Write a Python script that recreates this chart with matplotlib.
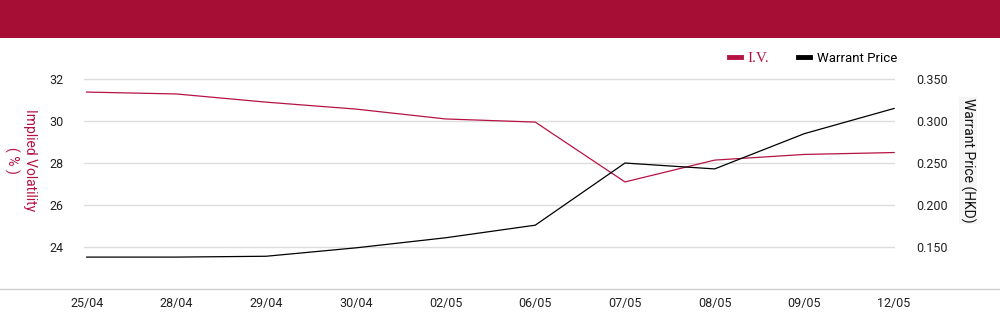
import matplotlib.pyplot as plt
from matplotlib.patches import Rectangle
from matplotlib.lines import Line2D
from matplotlib.ticker import FormatStrFormatter

dates = ['25/04', '28/04', '29/04', '30/04', '02/05', '06/05', '07/05', '08/05', '09/05', '12/05']
iv = [31.38, 31.29, 30.9, 30.57, 30.1, 29.95, 27.1, 28.14, 28.41, 28.5]
price = [0.138, 0.138, 0.139, 0.149, 0.161, 0.176, 0.250, 0.243, 0.285, 0.315]

red = '#A60E35'
iv_color = '#B51343'
plt.rcParams['font.family'] = ['Roboto', 'DejaVu Sans']

fig = plt.figure(figsize=(10, 3.24), dpi=100)
# red banner on top
fig.patches.append(Rectangle((0, 1 - 38 / 324), 1, 38 / 324, transform=fig.transFigure,
                             facecolor=red, edgecolor='none', zorder=0))
# bottom separator line
fig.add_artist(Line2D([0, 1], [1 - 289 / 324, 1 - 289 / 324], color='#d0d0d0', lw=1))

ax = fig.add_axes([0.084, 0.1728, 0.811, 0.648])
ax2 = ax.twinx()
x = range(len(dates))
l1, = ax.plot(x, iv, color=iv_color, lw=0.9, label='I.V.')
l2, = ax2.plot(x, price, color='black', lw=0.9, label='Warrant Price')

ax.set_ylim(23, 33)
ax.set_yticks([24, 26, 28, 30, 32])
ax2.set_ylim(0.125, 0.375)
ax2.set_yticks([0.15, 0.20, 0.25, 0.30, 0.35])
ax2.yaxis.set_major_formatter(FormatStrFormatter('%.3f'))
ax.set_xlim(-0.03, 9.01)
ax.set_xticks(list(x))
ax.set_xticklabels(dates, family=['Liberation Sans Narrow', 'Roboto'], fontsize=9,
                   color='#222222')

ax.grid(axis='y', color='#dddddd', lw=1)
ax.set_axisbelow(True)
for a in (ax, ax2):
    for s in a.spines.values():
        s.set_visible(False)
ax.tick_params(axis='y', length=0, pad=15, labelsize=9, labelcolor='#222222')
ax2.tick_params(axis='y', length=0, pad=15, labelsize=9, labelcolor='#222222')
ax.tick_params(axis='x', length=0, pad=21)

fig.text(0.030, 0.505, 'Implied Volatility', rotation=270, color=iv_color, fontsize=10,
         ha='center', va='center')
fig.text(0.012, 0.505, '( % )', rotation=270, color=iv_color, fontsize=10,
         ha='center', va='center')
fig.text(0.968, 0.505, 'Warrant Price (HKD)', rotation=270, color='#111111', fontsize=10,
         ha='center', va='center',
         bbox=dict(facecolor='#f5f5f5', edgecolor='none', pad=1))

leg = fig.legend(handles=[l1, l2], loc='center right', bbox_to_anchor=(0.897, 1 - 58 / 324),
                 ncol=2, frameon=False, fontsize=9.5, handlelength=0.9, handletextpad=0.5,
                 columnspacing=2.2, borderaxespad=0, borderpad=0)
for h in leg.legend_handles:
    h.set_linewidth(3.5)
leg.get_texts()[0].set_color(iv_color)
leg.get_texts()[0].set_family(['Liberation Serif', 'DejaVu Serif'])
leg.get_texts()[0].set_fontsize(11)

fig.savefig('out.png', dpi=100)
